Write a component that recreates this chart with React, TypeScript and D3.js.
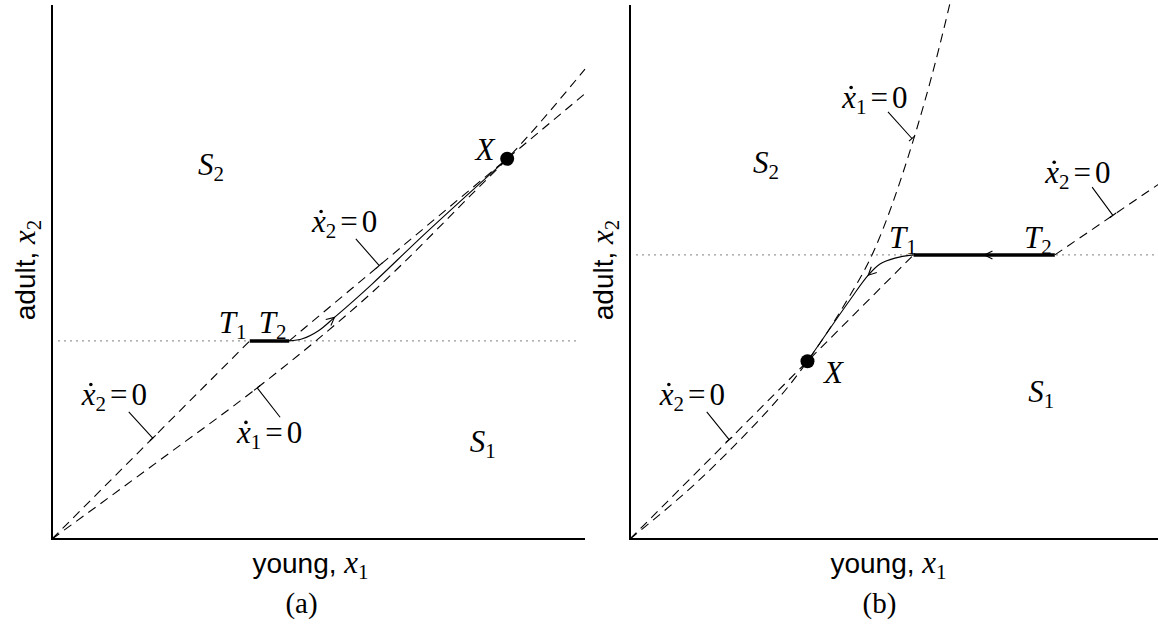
import React from "react";
import * as d3 from "d3";

type Pt = [number, number];

// ---------- Panel (a) ----------
const thresholdA = 37.1;
const barA: Pt[] = [[37.1, 37.1], [44.5, 37.1]]; // T1 -> T2 on the threshold
const equilibriumA: Pt = [85.4, 71.2];
const x2NullLowA: Pt[] = [[0, 0], [37.1, 37.1]];
const x2NullHighA: Pt[] = [[44.5, 37.1], [100, 83.4]];
const x1NullA: Pt[] = [
  [0, 0], [20, 14.6], [38.5, 28.3], [49.5, 37.1], [60.2, 46.3], [79.7, 65.5], [85.4, 71.2], [100, 88],
];
const trajectoryA: Pt[] = [
  [44.5, 37.1], [47, 37.5], [50, 39], [53, 41.5], [60, 47.7], [70, 57.2], [85.4, 71.2],
];

// ---------- Panel (b) ----------
const thresholdB = 53.2;
const barB: Pt[] = [[53.2, 53.2], [79.7, 53.2]];
const equilibriumB: Pt = [33.3, 33.3];
const x2NullLowB: Pt[] = [[0, 0], [53.2, 53.2]];
const x2NullHighB: Pt[] = [[79.7, 53.2], [100, 67.0]];
const x1NullB: Pt[] = [
  [0, 0], [16.9, 14.8], [33.3, 33.3], [40, 43.5], [46, 54.5], [52, 71], [58, 92], [60.2, 101],
];
const trajectoryB: Pt[] = [
  [53.2, 53.2], [49.7, 52.6], [46.9, 51.5], [44.7, 49.4], [41.3, 44.8], [33.3, 33.3],
];

type Ann = { idx: string; at: Pt; from: Pt; to: Pt };
type Txt = { sym: string; sub?: string; at: Pt; anchor?: string };

const panelA = {
  threshold: thresholdA,
  bar: barA,
  equilibrium: equilibriumA,
  x2Low: x2NullLowA,
  x2High: x2NullHighA,
  x1: x1NullA,
  traj: trajectoryA,
  arrows: [{ tip: [53, 41.5] as Pt, back: [50, 39] as Pt }],
  nulls: [
    { idx: "2", at: [5.6, 25.1], from: [14.4, 23.8], to: [18.9, 18.9] },
    { idx: "1", at: [34.7, 18.0], from: [42.8, 22.8], to: [38.5, 28.3] },
    { idx: "2", at: [48.8, 57.5], from: [57.0, 56.2], to: [61.4, 51.2] },
  ] as Ann[],
  texts: [
    { sym: "S", sub: "2", at: [27.4, 68.2] },
    { sym: "S", sub: "1", at: [78.4, 16.3] },
    { sym: "T", sub: "1", at: [31.3, 38.6] },
    { sym: "T", sub: "2", at: [38.8, 38.6] },
    { sym: "X", at: [83.0, 71.0], anchor: "end" },
  ] as Txt[],
  caption: "(a)",
};

const panelB = {
  threshold: thresholdB,
  bar: barB,
  equilibrium: equilibriumB,
  x2Low: x2NullLowB,
  x2High: x2NullHighB,
  x1: x1NullB,
  traj: trajectoryB,
  arrows: [
    { tip: [44.7, 49.4] as Pt, back: [46.9, 51.5] as Pt },
    { tip: [66.5, 53.2] as Pt, back: [70, 53.2] as Pt },
  ],
  nulls: [
    { idx: "2", at: [5.6, 25.1], from: [14.4, 23.8], to: [18.6, 18.6] },
    { idx: "1", at: [39.8, 80.7], from: [48.4, 80.0], to: [52.9, 75.0] },
    { idx: "2", at: [77.9, 66.7], from: [86.7, 65.9], to: [90.6, 60.6] },
  ] as Ann[],
  texts: [
    { sym: "S", sub: "2", at: [23.1, 68.5] },
    { sym: "S", sub: "1", at: [74.7, 25.7] },
    { sym: "T", sub: "1", at: [48.6, 54.5] },
    { sym: "T", sub: "2", at: [73.9, 54.5] },
    { sym: "X", at: [36.4, 29.2] },
  ] as Txt[],
  caption: "(b)",
};

const SERIF = "'Liberation Serif', 'Times New Roman', serif";
const SANS = "'Liberation Sans', Arial, sans-serif";
const MATH = 31;
const SUB = 21;

function Panel({ p, ox }: { p: typeof panelA; ox: number }) {
  const x = d3.scaleLinear().domain([0, 100]).range([ox, ox + 533]);
  const y = d3.scaleLinear().domain([0, 100]).range([539, 5]);
  const straight = d3.line<Pt>().x((d) => x(d[0])).y((d) => y(d[1]));
  const smooth = d3
    .line<Pt>()
    .x((d) => x(d[0]))
    .y((d) => y(d[1]))
    .curve(d3.curveMonotoneX);
  const traj = d3
    .line<Pt>()
    .x((d) => x(d[0]))
    .y((d) => y(d[1]))
    .curve(d3.curveCatmullRom.alpha(0.5));

  const dash = { fill: "none", stroke: "#000", strokeWidth: 1.1, strokeDasharray: "9 6" };

  const arrowPath = (tip: Pt, back: Pt) => {
    const tx = x(tip[0]), ty = y(tip[1]);
    const bx = x(back[0]), by = y(back[1]);
    const len = Math.hypot(tx - bx, ty - by);
    const ux = (tx - bx) / len, uy = (ty - by) / len;
    const nx = -uy, ny = ux;
    const L = 8, Wd = 4;
    return `M${tx - L * ux + Wd * nx},${ty - L * uy + Wd * ny}L${tx},${ty}L${tx - L * ux - Wd * nx},${ty - L * uy - Wd * ny}`;
  };

  const pointer = (from: Pt, to: Pt) => {
    const fx = x(from[0]), fy = y(from[1]);
    const tx = x(to[0]), ty = y(to[1]);
    const len = Math.hypot(tx - fx, ty - fy);
    const ux = (tx - fx) / len, uy = (ty - fy) / len;
    const nx = -uy, ny = ux;
    const c = 4;
    return `M${fx},${fy}L${tx},${ty}M${tx - c * nx},${ty - c * ny}L${tx + c * nx},${ty + c * ny}`;
  };

  const cx = ox + 533 / 2;

  return (
    <g>
      {/* threshold */}
      <line
        x1={x(1.2)}
        x2={x(99)}
        y1={y(p.threshold)}
        y2={y(p.threshold)}
        stroke="#555"
        strokeWidth={1.1}
        strokeDasharray="1.2 4.8"
      />
      {/* nullclines */}
      <path d={straight(p.x2Low) ?? ""} {...dash} />
      <path d={straight(p.x2High) ?? ""} {...dash} />
      <path d={smooth(p.x1) ?? ""} {...dash} />
      {/* trajectory */}
      <path d={traj(p.traj) ?? ""} fill="none" stroke="#000" strokeWidth={1.1} />
      <path d={straight(p.bar) ?? ""} stroke="#000" strokeWidth={3.5} />
      {p.arrows.map((a, i) => (
        <path key={i} d={arrowPath(a.tip, a.back)} fill="none" stroke="#000" strokeWidth={1.1} />
      ))}
      <circle cx={x(p.equilibrium[0])} cy={y(p.equilibrium[1])} r={7} fill="#000" />
      {/* axes */}
      <line x1={x(0)} x2={x(0)} y1={y(0)} y2={y(100)} stroke="#000" strokeWidth={2} />
      <line x1={x(0) - 1} x2={x(100)} y1={y(0)} y2={y(0)} stroke="#000" strokeWidth={1.8} />
      {/* nullcline labels */}
      {p.nulls.map((n, i) => {
        const tx = x(n.at[0]), ty = y(n.at[1]);
        return (
          <g key={i}>
            <path d={pointer(n.from, n.to)} fill="none" stroke="#000" strokeWidth={1.1} />
            <text x={tx} y={ty} fontFamily={SERIF} fontSize={MATH}>
              <tspan fontStyle="italic">x</tspan>
              <tspan fontSize={SUB} dy={6}>{n.idx}</tspan>
              <tspan dy={-6} dx={4}>=</tspan>
              <tspan dx={4}>0</tspan>
            </text>
            <circle cx={tx + 9} cy={ty - 20.5} r={1.8} fill="#000" />
          </g>
        );
      })}
      {p.texts.map((t, i) => (
        <text
          key={i}
          x={x(t.at[0])}
          y={y(t.at[1])}
          fontFamily={SERIF}
          fontSize={MATH}
          textAnchor={t.anchor ?? "start"}
        >
          <tspan fontStyle="italic">{t.sym}</tspan>
          {t.sub ? (
            <tspan fontSize={SUB} dy={6}>
              {t.sub}
            </tspan>
          ) : null}
        </text>
      ))}
      {/* axis titles */}
      <text x={cx - 8} y={573} textAnchor="middle" fontFamily={SANS} fontSize={28}>
        young,{" "}
        <tspan fontFamily={SERIF} fontStyle="italic" fontSize={MATH}>x</tspan>
        <tspan fontFamily={SERIF} fontSize={SUB} dy={6}>1</tspan>
      </text>
      <text
        transform={`translate(${ox - 17},${270}) rotate(-90)`}
        textAnchor="middle"
        fontFamily={SANS}
        fontSize={28}
      >
        adult,{" "}
        <tspan fontFamily={SERIF} fontStyle="italic" fontSize={MATH}>x</tspan>
        <tspan fontFamily={SERIF} fontSize={SUB} dy={6}>2</tspan>
      </text>
      <text x={cx - 17} y={613} textAnchor="middle" fontFamily={SERIF} fontSize={29}>
        {p.caption}
      </text>
    </g>
  );
}

export default function App() {
  return (
    <svg
      width={1158}
      height={627}
      style={{ position: "absolute", left: 0, top: 0, background: "#fff" }}
    >
      <rect width={1158} height={627} fill="#fff" />
      <Panel p={panelA} ox={52} />
      <Panel p={panelB} ox={630} />
    </svg>
  );
}
